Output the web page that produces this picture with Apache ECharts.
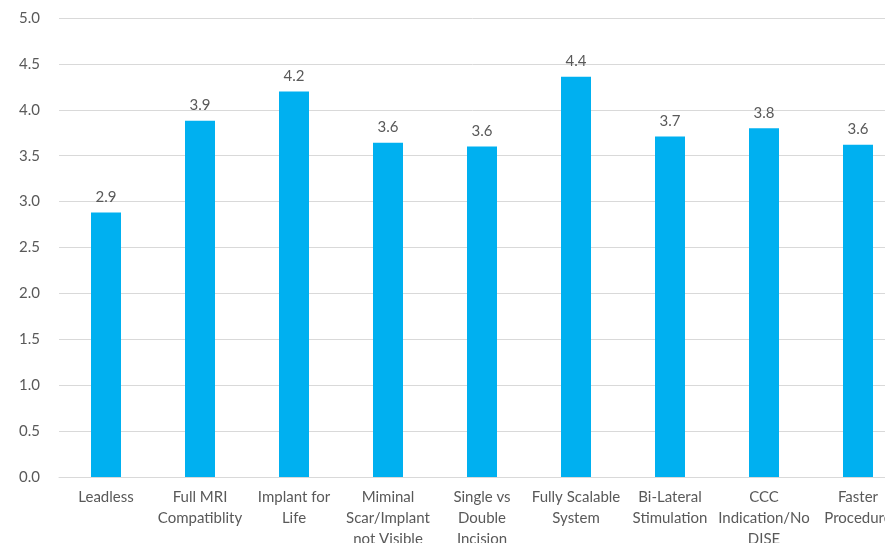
<!DOCTYPE html>
<html>
<head>
<meta charset="utf-8">
<script src="https://cdn.jsdelivr.net/npm/echarts@6/dist/echarts.min.js"></script>
<style>
html,body{margin:0;padding:0;background:#fff;}
#chart{width:885px;height:543px;}
</style>
</head>
<body>
<div id="chart"></div>
<script>
const categories = [
  'Leadless',
  'Full MRI\nCompatiblity',
  'Implant for\nLife',
  'Miminal\nScar/Implant\nnot Visible',
  'Single vs\nDouble\nIncision',
  'Fully Scalable\nSystem',
  'Bi-Lateral\nStimulation',
  'CCC\nIndication/No\nDISE',
  'Faster\nProcedure'
];
const values = [2.88, 3.88, 4.20, 3.64, 3.60, 4.36, 3.71, 3.80, 3.62];
const yMin = 0, yMax = 5, yStep = 0.5;

const FONT = 'Lato, "Open Sans", sans-serif';
const chart = echarts.init(document.getElementById('chart'));
chart.setOption({
  animation: false,
  textStyle: { fontFamily: FONT },
  grid: { left: 59, top: 18, width: 846, height: 459, containLabel: false, outerBoundsMode: 'none' },
  xAxis: {
    type: 'category',
    data: categories,
    axisLine: { show: true, lineStyle: { color: '#D9D9D9', width: 1 } },
    axisTick: { show: false },
    axisLabel: {
      interval: 0,
      color: '#595959',
      fontSize: 15,
      lineHeight: 21,
      margin: 10,
      fontFamily: FONT
    }
  },
  yAxis: {
    type: 'value',
    min: yMin, max: yMax, interval: yStep,
    axisLine: { show: false },
    axisTick: { show: false },
    splitLine: { lineStyle: { color: '#D9D9D9', width: 1 } },
    axisLabel: {
      color: '#595959',
      fontSize: 15,
      margin: 19,
      formatter: v => v.toFixed(1),
      fontFamily: FONT
    }
  },
  series: [{
    type: 'bar',
    data: values,
    barWidth: 30,
    itemStyle: { color: '#00B0F0' },
    label: {
      show: true,
      position: 'top',
      distance: 8,
      color: '#595959',
      fontSize: 15,
      formatter: p => p.value.toFixed(1),
      fontFamily: FONT
    }
  }]
});
</script>
</body>
</html>
